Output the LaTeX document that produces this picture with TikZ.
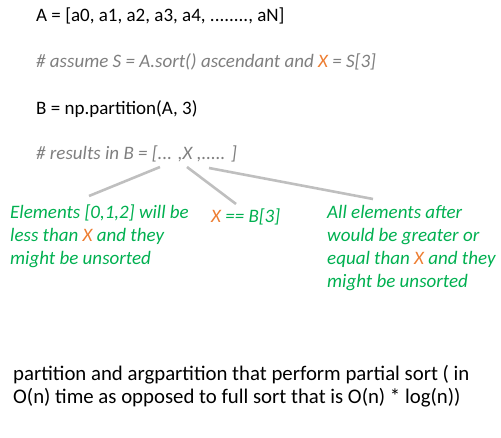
\documentclass[tikz,border=0pt]{standalone}
\usepackage{fontspec}
\setmainfont{Carlito}
\usepackage{xcolor}
\usepackage{tikz}
\definecolor{cmtgray}{HTML}{7F7F7F}
\definecolor{xorange}{HTML}{ED7D31}
\definecolor{notegreen}{HTML}{00B050}
\definecolor{linkgray}{HTML}{BFBFBF}
\newcommand{\xx}{\textcolor{xorange}{X}}
\tikzset{
    code/.style={anchor=base west, inner sep=0pt, font=\fontsize{19}{23}\selectfont},
    comment/.style={code, text=cmtgray, font=\fontsize{19}{23}\selectfont\itshape},
    note/.style={code, align=left, text=notegreen, font=\fontsize{19}{23}\selectfont\itshape},
    link/.style={draw=linkgray, line width=2.6pt}
}

\begin{document}
\begin{tikzpicture}[x=1pt,y=-1pt]
        \useasboundingbox (0,0) rectangle (501,438);
        \node[code] (arr) at (36,22) {A = [a0, a1, a2, a3, a4, ........, aN]};
        \node[comment] (assume) at (36,68) {\# assume S = A.sort() ascendant and \xx{} = S[3]};
        \node[code] (part) at (36,115) {B = np.partition(A, 3)};
        \node[comment] (res) at (36,160) {\# results in B = [... ,X ,..... ]};
        % the three parts of B (base = last line)
        \node[note] (left) at (10,265) {Elements [0,1,2] will be\\less than \xx{} and they\\might be unsorted};
        \node[note] (mid) at (211,223) {\xx{} == B[3]};
        \node[note] (right) at (327,288) {All elements after\\would be greater or\\equal than \xx{} and they\\might be unsorted};
        \coordinate (lefttop) at (160,167);
        \coordinate (midtop) at (187,167);
        \coordinate (righttop) at (209,168);
        \coordinate (leftend) at (89,196);
        \coordinate (midend) at (236,204);
        \coordinate (rightend) at (373,199);
        \draw[link] (lefttop) -- (leftend);
        \draw[link] (midtop) -- (midend);
        \draw[link] (righttop) -- (rightend);
        \node[code, align=left, font=\fontsize{20.8}{23}\selectfont] (summary) at (13,403) {partition and argpartition that perform partial sort ( in\\O(n) time as opposed to full sort that is O(n) * log(n))};
    \end{tikzpicture}
\end{document}
